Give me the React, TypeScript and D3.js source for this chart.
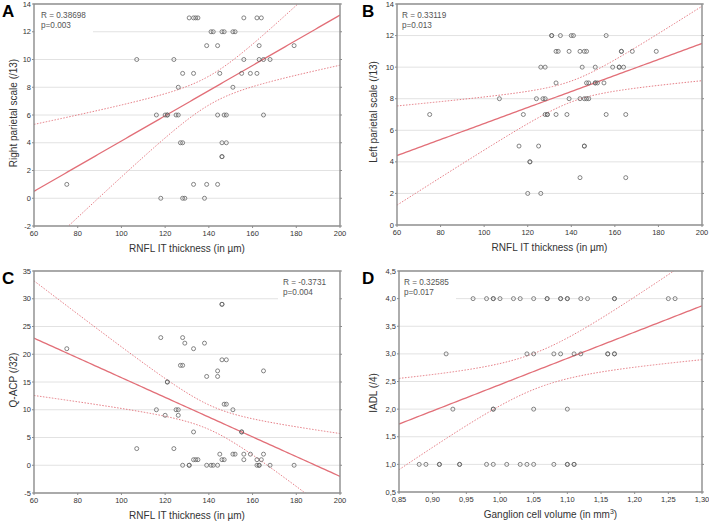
import React from "react";
import * as d3 from "d3";

// panel A: RNFL IT thickness vs right parietal scale
const rnflA = [
  131, 133, 134, 135, 156, 162, 164,
  141, 142, 146, 147, 151, 152,
  139, 144, 163, 179,
  107, 124, 156, 163, 165, 168,
  128, 133, 145, 155, 159, 162,
  126, 151,
  116, 120, 121, 121, 125, 126, 144, 147, 148, 165,
  127, 128, 146, 148,
  146, 146,
  75, 133, 139, 144,
  118, 128, 129, 138,
];
const rightParietal = [
  13, 13, 13, 13, 13, 13, 13,
  12, 12, 12, 12, 12, 12,
  11, 11, 11, 11,
  10, 10, 10, 10, 10, 10,
  9, 9, 9, 9, 9, 9,
  8, 8,
  6, 6, 6, 6, 6, 6, 6, 6, 6, 6,
  4, 4, 4, 4,
  3, 3,
  1, 1, 1, 1,
  0, 0, 0, 0,
];
// fitted line as drawn in the figure, value at x=60 and x=200
const fitA = [0.5, 13.2];

// panel B: RNFL IT thickness vs left parietal scale
const rnflB = [
  131, 131, 135, 140, 141, 156,
  133, 134, 139, 144, 146, 147, 163, 163, 168, 179,
  126, 128, 145, 151, 159, 162, 162, 164,
  133, 147, 148, 151, 151, 152, 155,
  107, 124, 127, 128, 139, 144, 146, 147, 148,
  75, 118, 128, 129, 129, 133, 138, 156, 165,
  116, 125, 146, 146,
  121, 121,
  144, 165,
  120, 126,
];
const leftParietal = [
  12, 12, 12, 12, 12, 12,
  11, 11, 11, 11, 11, 11, 11, 11, 11, 11,
  10, 10, 10, 10, 10, 10, 10, 10,
  9, 9, 9, 9, 9, 9, 9,
  8, 8, 8, 8, 8, 8, 8, 8, 8,
  7, 7, 7, 7, 7, 7, 7, 7, 7,
  5, 5, 5, 5,
  4, 4,
  3, 3,
  2, 2,
];
const fitB = [4.4, 11.5];

// panel C: RNFL IT thickness vs Q-ACP
const rnflC = [
  146, 146,
  118, 128,
  129, 138,
  75, 133,
  146, 148,
  127, 128,
  144, 165,
  139, 144,
  121, 121,
  147, 148,
  116, 125, 126, 151,
  120, 126,
  133, 155, 155,
  107, 124,
  145, 151, 152, 156, 159, 165,
  133, 134, 135, 146, 147, 156, 162, 164,
  128, 131, 131, 139, 141, 142, 144, 162, 163, 163, 168, 179,
];
const qacp = [
  29, 29,
  23, 23,
  22, 22,
  21, 21,
  19, 19,
  18, 18,
  17, 17,
  16, 16,
  15, 15,
  11, 11,
  10, 10, 10, 10,
  9, 9,
  6, 6, 6,
  3, 3,
  2, 2, 2, 2, 2, 2,
  1, 1, 1, 1, 1, 1, 1, 1,
  0, 0, 0, 0, 0, 0, 0, 0, 0, 0, 0, 0,
];
const fitC = [22.9, -2.0];

// panel D: ganglion cell volume vs IADL
const ganglion = [
  0.96, 0.98, 0.99, 0.99, 1.0, 1.02, 1.03, 1.05, 1.07, 1.07, 1.09, 1.09, 1.1, 1.1, 1.12, 1.13, 1.17, 1.17, 1.25, 1.26,
  0.92, 1.04, 1.05, 1.08, 1.09, 1.11, 1.12, 1.16, 1.16, 1.17, 1.17,
  0.93, 0.99, 0.99, 1.05, 1.1,
  0.88, 0.89, 0.91, 0.91, 0.94, 0.94, 0.98, 0.99, 1.01, 1.03, 1.04, 1.05, 1.08, 1.1, 1.1, 1.11, 1.11,
];
const iadl = [
  4, 4, 4, 4, 4, 4, 4, 4, 4, 4, 4, 4, 4, 4, 4, 4, 4, 4, 4, 4,
  3, 3, 3, 3, 3, 3, 3, 3, 3, 3, 3,
  2, 2, 2, 2, 2,
  1, 1, 1, 1, 1, 1, 1, 1, 1, 1, 1, 1, 1, 1, 1, 1, 1,
];
const fitD = [1.73, 3.87];

const rnflTicks = [60, 80, 100, 120, 140, 160, 180, 200];
const parietalTicksA = [-2, 0, 2, 4, 6, 8, 10, 12, 14];
const parietalTicksB = [0, 2, 4, 6, 8, 10, 12, 14];
const qacpTicks = [-5, 0, 5, 10, 15, 20, 25, 30, 35];
const ganglionTicks = [0.85, 0.9, 0.95, 1.0, 1.05, 1.1, 1.15, 1.2, 1.25, 1.3];
const iadlTicks = [0.5, 1.0, 1.5, 2.0, 2.5, 3.0, 3.5, 4.0, 4.5];

const FONT = "Arial, 'Liberation Sans', sans-serif";
const RED = "#e26f78";

// 95% confidence band half-width of the mean, from the scatter data
function confidence(xs: number[], ys: number[]) {
  const n = xs.length;
  const mx = d3.mean(xs)!;
  const my = d3.mean(ys)!;
  let sxx = 0, sxy = 0;
  xs.forEach((x, i) => {
    sxx += (x - mx) * (x - mx);
    sxy += (x - mx) * (ys[i] - my);
  });
  const b = sxy / sxx;
  const a = my - b * mx;
  let sse = 0;
  xs.forEach((x, i) => {
    const r = ys[i] - (a + b * x);
    sse += r * r;
  });
  const s = Math.sqrt(sse / (n - 2));
  const t = 2.005;
  return (x: number) => t * s * Math.sqrt(1 / n + ((x - mx) * (x - mx)) / sxx);
}

type PanelProps = {
  id: string;
  letter: string;
  left: number; right: number; top: number; bottom: number;
  xDomain: number[]; yDomain: number[];
  xTicks: number[]; yTicks: number[];
  xs: number[]; ys: number[]; fit: number[];
  xFmt: (v: number) => string; yFmt: (v: number) => string;
  xTitle: React.ReactNode; yTitle: string; yTitleY: number;
  rText: string; pText: string;
  legendX: number; legendRight?: boolean;
  letterX: number;
};

function Panel(p: PanelProps) {
  const x = d3.scaleLinear().domain(p.xDomain).range([p.left, p.right]);
  const y = d3.scaleLinear().domain(p.yDomain).range([p.bottom, p.top]);
  const fitY = d3.scaleLinear().domain(p.xDomain).range(p.fit);
  const half = confidence(p.xs, p.ys);
  const xsLine = d3.range(0, 101).map((i) => p.xDomain[0] + (i / 100) * (p.xDomain[1] - p.xDomain[0]));
  const mid = d3.line<number>().x((v) => x(v)).y((v) => y(fitY(v)))(xsLine);
  const up = d3.line<number>().x((v) => x(v)).y((v) => y(fitY(v) + half(v)))(xsLine);
  const lo = d3.line<number>().x((v) => x(v)).y((v) => y(fitY(v) - half(v)))(xsLine);
  const boxX0 = p.legendRight ? p.legendX - 5 : p.left + 1;
  const boxX1 = p.legendRight ? p.right - 1 : p.legendX + 52;
  return (
    <g>
      <defs>
        <clipPath id={"clip" + p.id}>
          <rect x={p.left} y={p.top} width={p.right - p.left} height={p.bottom - p.top} />
        </clipPath>
      </defs>
      <rect x={p.left} y={p.top} width={p.right - p.left} height={p.bottom - p.top} fill="#fff" />
      {p.yTicks.map((t) => (
        <line key={"g" + t} x1={p.left} x2={p.right} y1={y(t)} y2={y(t)} stroke="#e2e2e2" strokeWidth={1} />
      ))}
      <rect x={boxX0} y={p.top + 1} width={boxX1 - boxX0} height={30} fill="#fff" />
      <text x={p.legendX} y={p.top + 14} fontFamily={FONT} fontSize={8.2} fill="#555">{p.rText}</text>
      <text x={p.legendX} y={p.top + 24} fontFamily={FONT} fontSize={8.2} fill="#555">{p.pText}</text>
      <g clipPath={`url(#clip${p.id})`}>
        <path d={up!} fill="none" stroke={RED} strokeWidth={0.9} strokeDasharray="1.5,1.5" />
        <path d={lo!} fill="none" stroke={RED} strokeWidth={0.9} strokeDasharray="1.5,1.5" />
        <path d={mid!} fill="none" stroke={RED} strokeWidth={1.3} />
        {p.xs.map((v, i) => (
          <circle key={i} cx={x(v)} cy={y(p.ys[i])} r={2} fill="none" stroke="#666" strokeWidth={0.8} />
        ))}
      </g>
      <rect x={p.left} y={p.top} width={p.right - p.left} height={p.bottom - p.top} fill="none" stroke="#8c8c8c" strokeWidth={1.4} />
      {p.yTicks.map((t) => (
        <g key={"y" + t}>
          <line x1={p.left - 2} x2={p.left} y1={y(t)} y2={y(t)} stroke="#8c8c8c" />
          <line x1={p.right} x2={p.right + 2} y1={y(t)} y2={y(t)} stroke="#8c8c8c" />
          <text x={p.left - 3} y={y(t) + 2.6} textAnchor="end" fontFamily={FONT} fontSize={7.5} fill="#333">
            {p.yFmt(t)}
          </text>
        </g>
      ))}
      {p.xTicks.map((t) => (
        <g key={"x" + t}>
          <line x1={x(t)} x2={x(t)} y1={p.bottom} y2={p.bottom + 2} stroke="#8c8c8c" />
          <text x={x(t)} y={p.bottom + 9.5} textAnchor="middle" fontFamily={FONT} fontSize={7.5} fill="#333">
            {p.xFmt(t)}
          </text>
        </g>
      ))}
      <text x={(p.left + p.right) / 2} y={p.bottom + 25.5} textAnchor="middle" fontFamily={FONT} fontSize={10} fill="#333">
        {p.xTitle}
      </text>
      <text
        transform={`translate(${p.letterX + 14.6},${p.yTitleY}) rotate(-90)`}
        textAnchor="middle" fontFamily={FONT} fontSize={10} fill="#333"
      >
        {p.yTitle}
      </text>
      <text x={p.letterX} y={p.top + 12.5} fontFamily={FONT} fontSize={17} fontWeight="bold" fill="#000">
        {p.letter}
      </text>
    </g>
  );
}

export default function App() {
  const intFmt = (v: number) => String(v);
  const comma2 = (v: number) => d3.format(".2f")(v).replace(".", ",");
  const comma1 = (v: number) => d3.format(".1f")(v).replace(".", ",");
  const rnflTitle = "RNFL IT thickness (in µm)";
  return (
    <div style={{ position: "absolute", left: 0, top: 0, width: 709, height: 522, background: "#fff" }}>
      <svg width={709} height={522} style={{ display: "block" }}>
        <rect width={709} height={522} fill="#fff" />
        <Panel
          id="A" letter="A" letterX={2}
          left={34} right={340} top={4} bottom={226}
          xDomain={[60, 200]} yDomain={[-2, 14]}
          xTicks={rnflTicks} yTicks={parietalTicksA}
          xs={rnflA} ys={rightParietal} fit={fitA}
          xFmt={intFmt} yFmt={intFmt}
          xTitle={rnflTitle} yTitle="Right parietal scale (/13)" yTitleY={113}
          rText="R = 0.38698" pText="p=0.003" legendX={41}
        />
        <Panel
          id="B" letter="B" letterX={362}
          left={397} right={702} top={4} bottom={225}
          xDomain={[60, 200]} yDomain={[0, 14]}
          xTicks={rnflTicks} yTicks={parietalTicksB}
          xs={rnflB} ys={leftParietal} fit={fitB}
          xFmt={intFmt} yFmt={intFmt}
          xTitle={rnflTitle} yTitle="Left parietal scale (/13)" yTitleY={112}
          rText="R = 0.33119" pText="p=0.013" legendX={402}
        />
        <Panel
          id="C" letter="C" letterX={2}
          left={34} right={340} top={271} bottom={493}
          xDomain={[60, 200]} yDomain={[-5, 35]}
          xTicks={rnflTicks} yTicks={qacpTicks}
          xs={rnflC} ys={qacp} fit={fitC}
          xFmt={intFmt} yFmt={intFmt}
          xTitle={rnflTitle} yTitle="Q-ACP (/32)" yTitleY={380}
          rText="R = -0.3731" pText="p=0.004" legendX={283} legendRight
        />
        <Panel
          id="D" letter="D" letterX={362}
          left={399} right={702} top={271} bottom={492}
          xDomain={[0.85, 1.3]} yDomain={[0.5, 4.5]}
          xTicks={ganglionTicks} yTicks={iadlTicks}
          xs={ganglion} ys={iadl} fit={fitD}
          xFmt={comma2} yFmt={comma1}
          xTitle={<>Ganglion cell volume (in mm<tspan dy={-4} fontSize={7}>3</tspan><tspan dy={4}>)</tspan></>}
          yTitle="IADL (/4)" yTitleY={393}
          rText="R = 0.32585" pText="p=0.017" legendX={404}
        />
      </svg>
    </div>
  );
}
